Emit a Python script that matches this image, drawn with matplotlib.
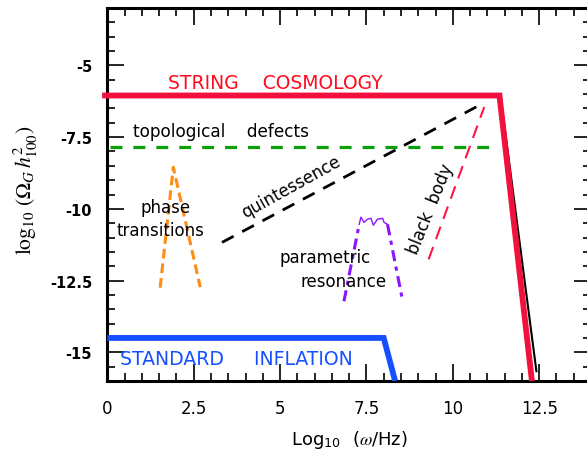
import matplotlib
matplotlib.use("Agg")
import matplotlib.pyplot as plt
from matplotlib.ticker import FixedLocator, FixedFormatter, MultipleLocator

plt.rcParams['mathtext.fontset'] = 'stix'
plt.rcParams['lines.scale_dashes'] = False

# axis ticks
x_ticks = [0, 2.5, 5, 7.5, 10, 12.5]
x_tick_labels = ['0', '2.5', '5', '7.5', '10', '12.5']
y_ticks = [-5, -7.5, -10, -12.5, -15]
y_tick_labels = ['-5', '-7.5', '-10', '-12.5', '-15']

# curves (log10 omega, log10 Omega h^2)
string_x = [-0.15, 11.35, 12.29]
string_y = [-6.05, -6.05, -16.0]
string_edge_x = [11.38, 12.42]
string_edge_y = [-6.05, -15.66]
inflation_x = [0.0, 8.0, 8.33]
inflation_y = [-14.5, -14.5, -16.0]
defects_x = [0.08, 11.08]
defects_y = [-7.83, -7.83]
phase_x = [1.53, 1.91, 2.69]
phase_y = [-12.75, -8.55, -12.73]
quint_x = [3.32, 10.80]
quint_y = [-11.17, -6.37]
blackbody_x = [9.30, 10.91]
blackbody_y = [-11.76, -6.45]
param_left_x = [6.85, 7.29]
param_left_y = [-13.22, -10.54]
param_top_x = [7.29, 7.34, 7.43, 7.53, 7.63, 7.70, 7.82, 7.97, 8.01, 8.11]
param_top_y = [-10.54, -10.29, -10.47, -10.36, -10.33, -10.57, -10.36, -10.33, -10.47, -10.54]
param_right_x = [8.11, 8.55]
param_right_y = [-10.54, -13.22]

fig = plt.figure(figsize=(5.87, 4.56), dpi=100)
W, H = 587, 456
ax = fig.add_axes([107.3 / W, (H - 382) / H, 483.7 / W, 373 / H])
ax.set_xlim(0, 14)
ax.set_ylim(-16, -3)

# the black edge goes under the thick red line
ax.plot(string_edge_x, string_edge_y, color='black', lw=1.5, zorder=2)
ax.plot(string_x, string_y, color='#f2103c', lw=4.2, solid_capstyle='butt',
        solid_joinstyle='miter', clip_on=False, zorder=3)
ax.plot(inflation_x, inflation_y, color='#1450ff', lw=4.2, solid_capstyle='butt',
        solid_joinstyle='miter', zorder=3)
ax.plot(defects_x, defects_y, color='#0aa00a', lw=2.3, dashes=(8.6, 7.9))
ax.plot(phase_x, phase_y, color='#ff8c14', lw=2.2, dashes=(7, 3.6))
ax.plot(quint_x, quint_y, color='black', lw=2.0, dashes=(9.5, 7))
ax.plot(blackbody_x, blackbody_y, color='#ff1446', lw=1.5, dashes=(9.5, 6))
ax.plot(param_left_x, param_left_y, color='#8c14ff', lw=2.2, dashes=(8, 4, 3, 4))
ax.plot(param_right_x, param_right_y, color='#8c14ff', lw=2.2, dashes=(8, 4, 3, 4))
ax.plot(param_top_x, param_top_y, color='#8c14ff', lw=1.0)

# labels
ax.text(1.76, -5.79, 'STRING    COSMOLOGY', color='#ff0a1e', fontsize=13.5, va='baseline')
ax.text(0.37, -15.40, 'STANDARD     INFLATION', color='#1450ff', fontsize=13.6, va='baseline')
ax.text(0.75, -7.47, 'topological    defects', color='black', fontsize=12.2, va='baseline')
ax.text(1.68, -10.12, 'phase', fontsize=12, ha='center', va='baseline')
ax.text(1.53, -10.92, 'transitions', fontsize=12, ha='center', va='baseline')
ax.text(6.30, -11.86, 'parametric', fontsize=12, ha='center', va='baseline')
ax.text(6.83, -12.69, 'resonance', fontsize=12, ha='center', va='baseline')
ax.text(5.31, -9.21, 'quintessence', fontsize=12, ha='center', va='center', rotation=29)
ax.text(9.37, -9.98, 'black  body', fontsize=12, ha='center', va='center', rotation=68)

ax.text(-0.168, 0.515, r'$\log_{10}\,(\Omega_G\,h^{2}_{100})$', transform=ax.transAxes,
        rotation=90, ha='center', va='center', fontsize=15.5)
ax.text(0.5, -0.155, r'Log$_{\mathregular{10}}$  ($\omega$/Hz)', transform=ax.transAxes,
        ha='center', va='center', fontsize=13)

ax.xaxis.set_major_locator(FixedLocator(x_ticks))
ax.xaxis.set_major_formatter(FixedFormatter(x_tick_labels))
ax.yaxis.set_major_locator(FixedLocator(y_ticks))
ax.yaxis.set_major_formatter(FixedFormatter(y_tick_labels))
ax.xaxis.set_minor_locator(MultipleLocator(0.5))
ax.yaxis.set_minor_locator(MultipleLocator(0.5))

ax.tick_params(which='both', direction='in', top=True, right=True, width=1.2)
ax.tick_params(which='major', length=12.5)
ax.tick_params(which='minor', length=5.8)
ax.tick_params(axis='x', labelsize=12, pad=13)
ax.tick_params(axis='y', labelsize=10.5, pad=11)
for lab in ax.get_yticklabels():
    lab.set_fontweight('bold')
for sp in ax.spines.values():
    sp.set_linewidth(2.2)

fig.savefig('out.png', dpi=100)
